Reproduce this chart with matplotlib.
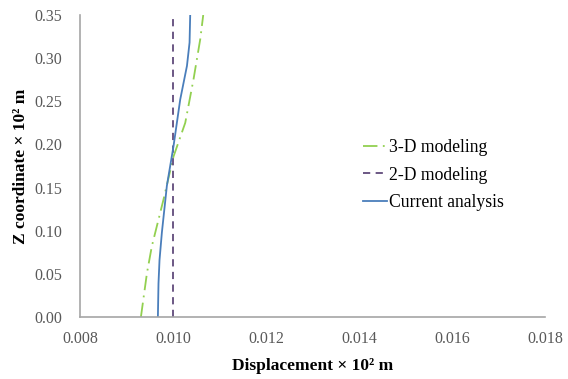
import matplotlib
matplotlib.use("Agg")
import matplotlib.pyplot as plt

plt.rcParams['font.family'] = ['Liberation Serif', 'DejaVu Serif']

# data
z_3d = [0.0, 0.051, 0.082, 0.136, 0.186, 0.225, 0.276, 0.322, 0.35]
d_3d = [0.00931, 0.00944, 0.009545, 0.009795, 0.010011, 0.010263, 0.010443, 0.010586, 0.01065]

z_2d = [0.0, 0.35]
d_2d = [0.0100, 0.0100]

z_cur = [0.0, 0.039, 0.066, 0.098, 0.152, 0.198, 0.252, 0.291, 0.318, 0.35]
d_cur = [0.009675, 0.009688, 0.00971, 0.009761, 0.009868, 0.010011, 0.010155, 0.0103, 0.010356, 0.01037]

x_ticks = [0.008, 0.010, 0.012, 0.014, 0.016, 0.018]
y_ticks = [0.00, 0.05, 0.10, 0.15, 0.20, 0.25, 0.30, 0.35]

fig = plt.figure(figsize=(5.68, 3.79), dpi=100)
ax = fig.add_axes([80/568, 62/379, 465/568, 302/379])

ax.plot(d_3d, z_3d, color='#92d050', lw=1.3, ls=(0, (8, 3, 1, 3)), label='3-D modeling')
ax.plot(d_2d, z_2d, color='#604a7b', lw=1.3, ls=(0, (4, 3)), label='2-D modeling')
ax.plot(d_cur, z_cur, color='#4a7ebb', lw=1.3, label='Current analysis')

ax.set_xlim(0.008, 0.018)
ax.set_ylim(0, 0.35)
ax.set_xticks(x_ticks)
ax.set_yticks(y_ticks)
ax.set_xticklabels([f'{v:.3f}' for v in x_ticks])
ax.set_yticklabels([f'{v:.2f}' for v in y_ticks])
ax.tick_params(length=0, labelsize=11.5, colors='#595959')
ax.tick_params(axis='y', pad=13)
ax.tick_params(axis='x', pad=10)

for s in ['top', 'right']:
    ax.spines[s].set_visible(False)
for s in ['left', 'bottom']:
    ax.spines[s].set_color('#a6a6a6')
    ax.spines[s].set_linewidth(1.2)

ax.set_xlabel('Displacement × 10² m', fontsize=12.5, fontweight='bold', labelpad=8)
ax.set_ylabel('Z coordinate × 10² m', fontsize=12.5, fontweight='bold', labelpad=4)

leg = ax.legend(loc='center left', bbox_to_anchor=(0.575, 0.47), frameon=False,
                fontsize=12.7, handlelength=1.35, handletextpad=0.1, labelspacing=0.6)

fig.savefig('out.png', dpi=100)
